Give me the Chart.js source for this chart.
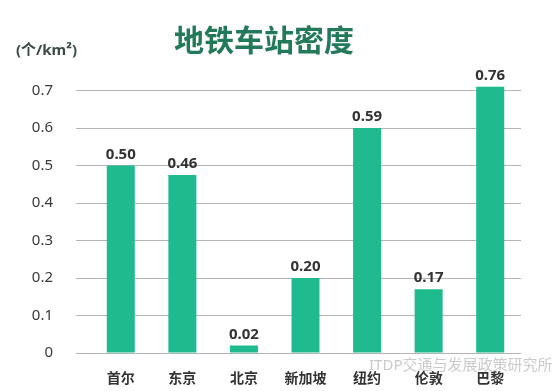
<!DOCTYPE html>
<html>
<head>
<meta charset="utf-8">
<script src="https://cdn.jsdelivr.net/npm/chart.js@4/dist/chart.umd.min.js"></script>
<style>
  html, body { margin: 0; padding: 0; background: #fff; }
  #wrap { width: 554px; height: 391px; position: relative; }
</style>
</head>
<body>
<div id="wrap"><canvas id="density"></canvas></div>
<script>
// data
const cities = ['首尔', '东京', '北京', '新加坡', '纽约', '伦敦', '巴黎'];
const bar_values = [0.50, 0.475, 0.02, 0.20, 0.60, 0.17, 0.71];
const value_labels = ['0.50', '0.46', '0.02', '0.20', '0.59', '0.17', '0.76'];
const y_ticks = [0, 0.1, 0.2, 0.3, 0.4, 0.5, 0.6, 0.7];

const chart_title = '地铁车站密度';
const unit_label = '(个/km²)';
const watermark = 'ITDP交通与发展政策研究所';

const FONT = '"Noto Sans", "Noto Sans CJK SC", sans-serif';
const BAR_COLOR = '#1fbb8f';

// title, unit, value labels and watermark
const extras = {
    id: 'extras',
    afterDatasetsDraw(chart) {
        const ctx = chart.ctx;
        ctx.save();
        ctx.textBaseline = 'middle';

        ctx.fillStyle = '#237a5a';
        ctx.font = 'bold 30px ' + FONT;
        ctx.textAlign = 'center';
        ctx.fillText(chart_title, 264, 42);

        ctx.fillStyle = '#3d4a45';
        ctx.font = 'bold 15px ' + FONT;
        ctx.textAlign = 'left';
        ctx.fillText(unit_label, 16, 51);

        ctx.fillStyle = '#333';
        ctx.font = 'bold 15px ' + FONT;
        ctx.textAlign = 'center';
        ctx.textBaseline = 'alphabetic';
        chart.getDatasetMeta(0).data.forEach((bar, i) => {
            ctx.fillText(value_labels[i], bar.x, bar.y - 7);
        });

        ctx.fillStyle = 'rgba(150,150,150,0.5)';
        ctx.font = '15px ' + FONT;
        ctx.textAlign = 'left';
        ctx.textBaseline = 'middle';
        ctx.fillText(watermark, 369, 366);
        ctx.restore();
    }
};

new Chart(document.getElementById('density'), {
    type: 'bar',
    data: {
        labels: cities,
        datasets: [{
            data: bar_values,
            backgroundColor: BAR_COLOR,
            categoryPercentage: 1,
            barPercentage: 0.455
        }]
    },
    options: {
        responsive: true,
        maintainAspectRatio: false,
        animation: false,
        layout: { padding: { top: 53, left: 10, right: 33, bottom: 0 } },
        plugins: {
            legend: { display: false },
            tooltip: { enabled: false }
        },
        scales: {
            x: {
                afterFit(scale) { scale.height = 38; },
                grid: { display: false },
                border: { display: false },
                ticks: {
                    color: '#333',
                    padding: 10,
                    font: { family: FONT, size: 14, weight: 'bold' }
                }
            },
            y: {
                min: 0,
                max: 0.8,
                afterBuildTicks(scale) {
                    scale.ticks = y_ticks.map(v => ({ value: v }));
                },
                afterFit(scale) { scale.width = 80; },
                border: { display: false },
                grid: {
                    color: '#b4b4b4',
                    lineWidth: 1,
                    drawTicks: true,
                    tickLength: 14
                },
                ticks: {
                    color: '#3a3a3a',
                    padding: 23,
                    font: { family: FONT, size: 15 },
                    callback: v => v === 0 ? '0' : v.toFixed(1)
                }
            }
        }
    },
    plugins: [extras]
});
</script>
</body>
</html>
